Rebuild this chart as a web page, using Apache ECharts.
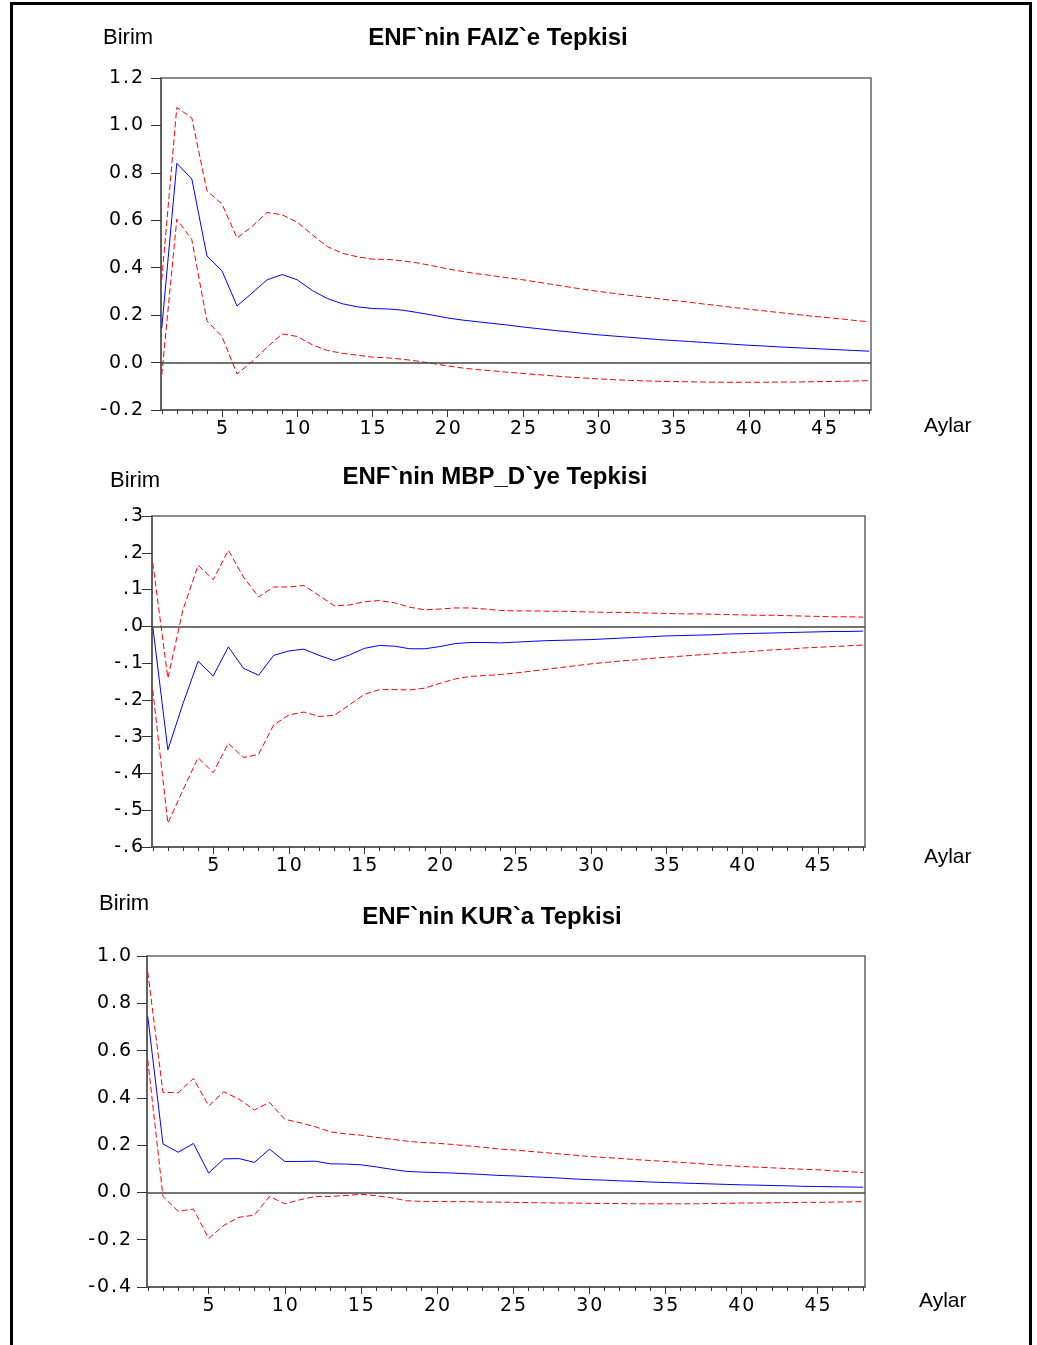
<!DOCTYPE html>
<html>
<head>
<meta charset="utf-8">
<title>ENF tepkileri</title>
<script src="https://cdn.jsdelivr.net/npm/echarts@6/dist/echarts.min.js"></script>
<style>
  body { margin: 0; background: #fff; }
  #chart { position: absolute; left: 0; top: 0; width: 1037px; height: 1345px; }
  .frame {
    position: absolute; left: 10px; top: 2px; width: 1016px; height: 1345px;
    border: 3px solid #000; border-bottom: none; pointer-events: none;
  }
</style>
</head>
<body>
<div id="chart"></div>
<div class="frame"></div>
<script>
// aylar (1..48)
const months = [1,2,3,4,5,6,7,8,9,10,11,12,13,14,15,16,17,18,19,20,21,22,23,24,
  25,26,27,28,29,30,31,32,33,34,35,36,37,38,39,40,41,42,43,44,45,46,47,48];
const majorTicks = [5,10,15,20,25,30,35,40,45];

// ENF`nin FAIZ`e Tepkisi
const faizResp = [0.145,0.840,0.774,0.450,0.387,0.239,0.293,0.349,0.371,0.349,0.304,0.270,
  0.248,0.235,0.228,0.226,0.221,0.211,0.200,0.188,0.179,0.172,0.165,0.158,
  0.150,0.143,0.136,0.130,0.123,0.117,0.112,0.107,0.102,0.097,0.093,0.089,
  0.085,0.081,0.077,0.073,0.070,0.066,0.063,0.060,0.057,0.054,0.051,0.048];
const faizUpper = [0.349,1.076,1.031,0.724,0.669,0.525,0.574,0.633,0.623,0.592,0.539,0.489,
  0.461,0.446,0.436,0.435,0.429,0.420,0.408,0.395,0.384,0.374,0.366,0.357,
  0.349,0.339,0.329,0.319,0.309,0.300,0.292,0.284,0.277,0.269,0.262,0.255,
  0.247,0.240,0.232,0.225,0.218,0.211,0.204,0.197,0.191,0.185,0.178,0.172];
const faizLower = [-0.052,0.605,0.518,0.176,0.110,-0.048,0.004,0.065,0.121,0.110,0.075,0.051,
  0.039,0.031,0.023,0.020,0.014,0.006,-0.004,-0.014,-0.023,-0.030,-0.035,-0.041,
  -0.046,-0.051,-0.056,-0.061,-0.065,-0.069,-0.072,-0.075,-0.077,-0.079,-0.080,-0.081,
  -0.082,-0.083,-0.083,-0.083,-0.083,-0.082,-0.082,-0.081,-0.080,-0.079,-0.078,-0.076];

// ENF`nin MBP_D`ye Tepkisi
const mbpResp = [0.000,-0.336,-0.210,-0.095,-0.135,-0.056,-0.114,-0.133,-0.079,-0.067,-0.062,-0.079,
  -0.093,-0.078,-0.060,-0.052,-0.054,-0.061,-0.061,-0.055,-0.047,-0.044,-0.044,-0.045,
  -0.043,-0.041,-0.039,-0.038,-0.037,-0.036,-0.034,-0.032,-0.030,-0.028,-0.026,-0.025,
  -0.024,-0.023,-0.021,-0.020,-0.019,-0.018,-0.017,-0.016,-0.015,-0.014,-0.014,-0.013];
const mbpUpper = [0.173,-0.141,0.045,0.166,0.127,0.207,0.134,0.080,0.107,0.107,0.111,0.084,
  0.056,0.058,0.067,0.070,0.064,0.052,0.045,0.047,0.050,0.050,0.047,0.043,
  0.042,0.042,0.041,0.041,0.040,0.039,0.038,0.038,0.037,0.036,0.035,0.034,
  0.034,0.033,0.032,0.031,0.030,0.030,0.029,0.028,0.027,0.026,0.026,0.025];
const mbpLower = [-0.173,-0.535,-0.445,-0.357,-0.398,-0.318,-0.357,-0.348,-0.268,-0.241,-0.233,-0.245,
  -0.242,-0.214,-0.185,-0.172,-0.172,-0.173,-0.168,-0.155,-0.143,-0.136,-0.134,-0.131,
  -0.127,-0.122,-0.117,-0.112,-0.107,-0.102,-0.098,-0.094,-0.091,-0.087,-0.084,-0.081,
  -0.078,-0.075,-0.072,-0.070,-0.067,-0.064,-0.062,-0.059,-0.057,-0.055,-0.053,-0.051];

// ENF`nin KUR`a Tepkisi
const kurResp = [0.745,0.205,0.170,0.207,0.082,0.142,0.143,0.127,0.183,0.131,0.131,0.132,
  0.121,0.120,0.117,0.108,0.098,0.089,0.086,0.084,0.082,0.079,0.076,0.072,
  0.070,0.067,0.064,0.061,0.057,0.054,0.052,0.049,0.047,0.044,0.042,0.040,
  0.038,0.036,0.034,0.032,0.031,0.029,0.028,0.026,0.025,0.024,0.023,0.022];
const kurUpper = [0.932,0.423,0.422,0.482,0.366,0.426,0.394,0.349,0.381,0.309,0.295,0.278,
  0.256,0.248,0.242,0.233,0.225,0.217,0.211,0.208,0.203,0.197,0.191,0.184,
  0.180,0.174,0.169,0.163,0.158,0.152,0.148,0.144,0.139,0.135,0.131,0.127,
  0.123,0.118,0.114,0.110,0.107,0.104,0.101,0.098,0.096,0.091,0.088,0.084];
const kurLower = [0.560,-0.017,-0.080,-0.070,-0.195,-0.139,-0.105,-0.096,-0.017,-0.048,-0.031,-0.017,
  -0.017,-0.013,-0.008,-0.014,-0.023,-0.035,-0.038,-0.038,-0.039,-0.039,-0.041,-0.041,
  -0.042,-0.043,-0.044,-0.045,-0.045,-0.046,-0.047,-0.047,-0.048,-0.048,-0.048,-0.048,
  -0.048,-0.047,-0.046,-0.045,-0.045,-0.044,-0.043,-0.042,-0.042,-0.041,-0.040,-0.039];

const titles = ['ENF`nin FAIZ`e Tepkisi', 'ENF`nin MBP_D`ye Tepkisi', 'ENF`nin KUR`a Tepkisi'];

const chart = echarts.init(document.getElementById('chart'));

const tickFont = { fontFamily: 'DejaVu Sans', fontSize: 19, color: '#000' };
const boxes = [
  { left: 161, top: 78, width: 710, height: 332 },
  { left: 152, top: 516, width: 713, height: 331 },
  { left: 147, top: 956, width: 718, height: 331 }
];

function pts(arr) {
  return months.map((m, i) => [m, arr[i]]);
}
// eviews gibi biraz aralikli etiket
function spaced(s) {
  return String(s).split('').join('\u200A');
}
function fmt1(v) {
  if (Math.abs(v) < 1e-9) v = 0;
  return spaced(v.toFixed(1));
}
function fmtDot(v) {
  if (Math.abs(v) < 1e-9) return spaced('.0');
  return spaced(v.toFixed(1).replace('0.', '.'));
}

const grids = [];
const xAxes = [];
const yAxes = [];
boxes.forEach(b => grids.push(Object.assign({ show: true, borderColor: '#666', borderWidth: 1.5, backgroundColor: '#fff' }, b)));
boxes.forEach(b => grids.push(Object.assign({ show: false }, b)));

for (let g = 0; g < 3; g++) {
  // kucuk isaretler
  xAxes.push({
    type: 'value', gridIndex: g, position: 'bottom', min: 0.95, max: 48.12,
    axisLine: { show: true, onZero: false, lineStyle: { color: '#555', width: 1.5 } },
    axisTick: { show: true, customValues: months, length: 4, lineStyle: { color: '#333' } },
    axisLabel: { show: false },
    splitLine: { show: false }
  });
}
for (let g = 0; g < 3; g++) {
  // buyuk isaretler + etiketler
  xAxes.push({
    type: 'value', gridIndex: g + 3, position: 'bottom', min: 0.95, max: 48.12,
    axisLine: { show: false, onZero: false },
    axisTick: { show: true, customValues: majorTicks, length: 7, lineStyle: { color: '#333' } },
    axisLabel: Object.assign({ customValues: majorTicks, margin: 10, formatter: spaced }, tickFont),
    splitLine: { show: false }
  });
}

const yCfg = [
  { min: -0.2, max: 1.2, interval: 0.2, fmt: fmt1, margin: 18 },
  { min: -0.6, max: 0.3, interval: 0.1, fmt: fmtDot, margin: 9 },
  { min: -0.4, max: 1.0, interval: 0.2, fmt: fmt1, margin: 16 }
];
yCfg.forEach((c, g) => {
  yAxes.push({
    type: 'value', gridIndex: g, min: c.min, max: c.max, interval: c.interval,
    axisLine: { show: true, onZero: false, lineStyle: { color: '#555', width: 1.5 } },
    axisTick: { show: true, inside: false, length: 10, lineStyle: { color: '#333' } },
    axisLabel: Object.assign({ formatter: c.fmt, margin: c.margin }, tickFont),
    splitLine: { show: false }
  });
});
for (let g = 0; g < 3; g++) {
  yAxes.push({ type: 'value', gridIndex: g + 3, show: false, min: 0, max: 1 });
}

const sets = [
  [faizResp, faizUpper, faizLower],
  [mbpResp, mbpUpper, mbpLower],
  [kurResp, kurUpper, kurLower]
];
const series = [];
sets.forEach((s, g) => {
  series.push({
    type: 'line', xAxisIndex: g, yAxisIndex: g, data: pts(s[0]),
    showSymbol: false, symbol: 'none', silent: true,
    lineStyle: { color: '#0000ff', width: 1 },
    markLine: {
      silent: true, symbol: 'none', label: { show: false },
      lineStyle: { color: '#444', width: 1.5, type: 'solid' },
      data: [{ yAxis: 0 }]
    },
    z: 3
  });
  [s[1], s[2]].forEach(arr => {
    series.push({
      type: 'line', xAxisIndex: g, yAxisIndex: g, data: pts(arr),
      showSymbol: false, symbol: 'none', silent: true,
      lineStyle: { color: '#ff0000', width: 1, type: [6, 3] },
      z: 3
    });
  });
});

const titleY = [38, 477, 917];
const titleX = [498, 495, 492];
const birim = [[103, 38], [110, 481], [99, 904]];
const aylar = [[924, 426], [924, 857], [919, 1301]];
const graphic = [];
for (let g = 0; g < 3; g++) {
  graphic.push({
    type: 'text', x: titleX[g], y: titleY[g],
    style: { text: titles[g], font: 'bold 24px "Liberation Sans", Arial, sans-serif',
      fill: '#000', textAlign: 'center', textVerticalAlign: 'middle' }
  });
  graphic.push({
    type: 'text', x: birim[g][0], y: birim[g][1],
    style: { text: 'Birim', font: '22px "Liberation Sans", Arial, sans-serif',
      fill: '#000', textAlign: 'left', textVerticalAlign: 'middle' }
  });
  graphic.push({
    type: 'text', x: aylar[g][0], y: aylar[g][1],
    style: { text: 'Aylar', font: '21px "Liberation Sans", Arial, sans-serif',
      fill: '#000', textAlign: 'left', textVerticalAlign: 'middle' }
  });
}

chart.setOption({
  animation: false,
  backgroundColor: '#fff',
  grid: grids,
  xAxis: xAxes,
  yAxis: yAxes,
  series: series,
  graphic: graphic
});
</script>
</body>
</html>
